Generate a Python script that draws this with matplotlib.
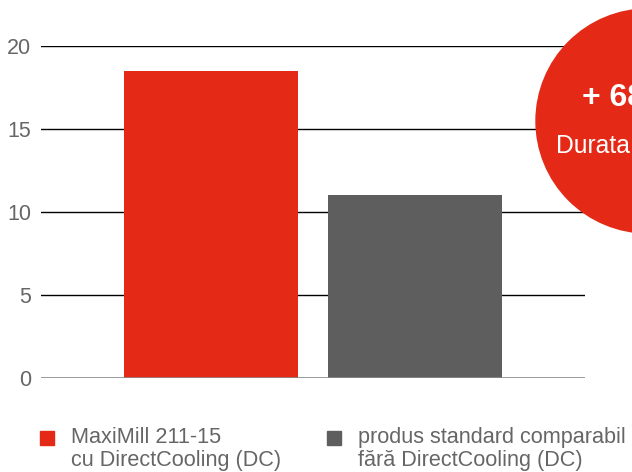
import matplotlib
matplotlib.use("Agg")
import matplotlib.pyplot as plt
from matplotlib.patches import Circle, Rectangle

plt.rcParams["font.family"] = ["Liberation Sans", "DejaVu Sans"]

# date din grafic
categories = ["MaxiMill 211-15\ncu DirectCooling (DC)",
              "produs standard comparabil\nfără DirectCooling (DC)"]
values = [18.5, 11.0]
colors = ["#E42A16", "#5E5E5E"]
yticks = [0, 5, 10, 15, 20]
badge_lines = ["+ 68%", "Durata de viață a sculei"]

W, H = 632, 472
fig = plt.figure(figsize=(W / 100, H / 100), dpi=100)

# axa principala (pozitie in pixeli convertita)
left, right, top, bottom = 41, 585, 46, 378
ax = fig.add_axes([left / W, 1 - bottom / H, (right - left) / W, (bottom - top) / H])
x = list(range(len(values)))
ax.bar(x, values, width=0.853, color=colors, zorder=2)
ax.set_xlim(-0.833, 1.833)
ax.set_ylim(0, 20)
ax.set_yticks(yticks)
ax.set_yticklabels([str(t) for t in yticks])
for t in yticks[1:]:
    ax.axhline(t, color="black", lw=1, zorder=1)
ax.axhline(0, color="#8a8a8a", lw=1.2, zorder=3)
ax.set_xticks([])
for s in ax.spines.values():
    s.set_visible(False)
ax.tick_params(axis="y", length=0, pad=7, labelsize=15.5, labelcolor="#666666")
ax.patch.set_alpha(0)

# strat de suprapunere in pixeli
ov = fig.add_axes([0, 0, 1, 1])
ov.set_xlim(0, W)
ov.set_ylim(H, 0)
ov.axis("off")
ov.patch.set_alpha(0)

ov.add_patch(Circle((648, 121), 112, color="#E42A16", zorder=5))
ov.text(582, 106, badge_lines[0], color="white", fontsize=23, fontweight="bold",
        ha="left", va="baseline", zorder=6)
ov.text(556, 153, badge_lines[1], color="white", fontsize=17.8,
        ha="left", va="baseline", zorder=6)

# legenda
leg_x = [40, 327]
for lx, lab, c in zip(leg_x, categories, colors):
    ov.add_patch(Rectangle((lx, 431), 14, 14, color=c))
    l1, l2 = lab.split("\n")
    ov.text(lx + 31, 443, l1, fontsize=15.6, color="#666666", va="baseline", ha="left")
    ov.text(lx + 31, 466, l2, fontsize=15.6, color="#666666", va="baseline", ha="left")

fig.savefig("out.png", dpi=100)
